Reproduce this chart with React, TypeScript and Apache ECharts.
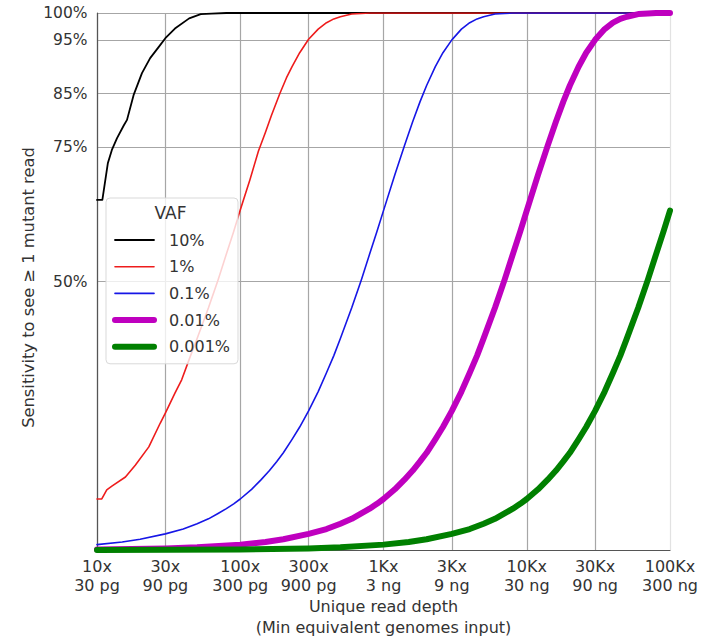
import React, { useEffect, useRef } from "react";
import * as echarts from "echarts";

// Axis ticks: read depth (log scale) and the matching genome-equivalent input mass
const depthTicks = [10, 30, 100, 300, 1000, 3000, 10000, 30000, 100000];
const depthTickLabels = ["10x", "30x", "100x", "300x", "1Kx", "3Kx", "10Kx", "30Kx", "100Kx"];
const massTickLabels = ["30 pg", "90 pg", "300 pg", "900 pg", "3 ng", "9 ng", "30 ng", "90 ng", "300 ng"];
const pctTicks = [50, 75, 85, 95, 100];

// VAF 10%
const vaf10Depth = [10, 10.9, 11.9, 12.7, 13.8, 15.4, 16.2, 18, 20.6, 23.5, 27, 30, 35, 44, 53, 63, 80, 100000];
const vaf10Pct = [65.2, 65.2, 72.0, 74.5, 76.7, 79.1, 80.1, 84.7, 88.8, 91.6, 93.7, 95.3, 97.1, 99.0, 99.8, 99.9, 100, 100];

// VAF 1%
const vaf1Depth = [10, 10.8, 11.7, 12.7, 15.8, 18.5, 23, 27.6, 30, 35, 39, 45, 50, 60, 70, 80, 90, 100, 117, 134, 150, 165, 189, 210, 230, 260, 300, 350, 400, 450, 500, 600, 700, 800, 100000];
const vaf1Pct = [9.5, 9.5, 11.2, 11.9, 13.6, 15.8, 19.2, 23.6, 25.5, 29.2, 31.7, 36.2, 39.4, 45.1, 50.3, 55.1, 59.3, 63.3, 69.0, 74.3, 77.8, 80.9, 85.0, 87.9, 90.0, 92.6, 95.1, 97.0, 98.2, 98.9, 99.3, 99.8, 99.9, 100, 100];

// VAF 0.1%
const vaf01Depth = [10, 15, 20, 30, 40, 50, 60, 70, 80, 90, 100, 120, 140, 160, 180, 200, 230, 260, 300, 350, 400, 450, 500, 600, 700, 800, 900, 1000, 1200, 1400, 1600, 1800, 2000, 2300, 2600, 3000, 3500, 4000, 4500, 5000, 6000, 7000, 8000, 10000, 100000];
const vaf01Pct = [1.0, 1.5, 2.0, 3.0, 3.9, 4.9, 5.8, 6.8, 7.7, 8.6, 9.5, 11.3, 13.1, 14.8, 16.5, 18.1, 20.6, 22.9, 25.9, 29.5, 33.0, 36.2, 39.4, 45.1, 50.3, 55.1, 59.3, 63.2, 69.9, 75.3, 79.8, 83.5, 86.5, 90.0, 92.6, 95.0, 97.0, 98.2, 98.9, 99.3, 99.8, 99.9, 100, 100, 100];

// VAF 0.01%
const vaf001Depth = [10, 30, 50, 100, 150, 200, 300, 400, 500, 600, 700, 800, 900, 1000, 1200, 1400, 1600, 1800, 2000, 2300, 2600, 3000, 3500, 4000, 4500, 5000, 6000, 7000, 8000, 9000, 10000, 12000, 14000, 16000, 18000, 20000, 23000, 26000, 30000, 35000, 40000, 45000, 50000, 60000, 70000, 80000, 100000];
const vaf001Pct = [0.1, 0.3, 0.5, 1.0, 1.5, 2.0, 3.0, 3.9, 4.9, 5.8, 6.8, 7.7, 8.6, 9.5, 11.3, 13.1, 14.8, 16.5, 18.1, 20.6, 22.9, 25.9, 29.5, 33.0, 36.2, 39.4, 45.1, 50.3, 55.1, 59.3, 63.2, 69.9, 75.3, 79.8, 83.5, 86.5, 90.0, 92.6, 95.0, 97.0, 98.2, 98.9, 99.3, 99.8, 99.9, 100, 100];

// VAF 0.001%
const vaf0001Depth = [10, 100, 300, 500, 1000, 1500, 2000, 3000, 4000, 5000, 6000, 7000, 8000, 9000, 10000, 12000, 14000, 16000, 18000, 20000, 23000, 26000, 30000, 35000, 40000, 45000, 50000, 60000, 70000, 80000, 90000, 100000];
const vaf0001Pct = [0.01, 0.1, 0.3, 0.5, 1.0, 1.5, 2.0, 3.0, 3.9, 4.9, 5.8, 6.8, 7.7, 8.6, 9.5, 11.3, 13.1, 14.8, 16.5, 18.1, 20.6, 22.9, 25.9, 29.5, 33.0, 36.2, 39.4, 45.1, 50.3, 55.1, 59.3, 63.2];

const seriesNames = ["10%", "1%", "0.1%", "0.01%", "0.001%"];
const seriesColors = ["#000000", "#ee1c1c", "#1616e6", "#bf00bf", "#008000"];
const seriesWidths = [1.8, 1.6, 1.6, 6, 6];
const seriesDepths = [vaf10Depth, vaf1Depth, vaf01Depth, vaf001Depth, vaf0001Depth];
const seriesPcts = [vaf10Pct, vaf1Pct, vaf01Pct, vaf001Pct, vaf0001Pct];

const FONT = "DejaVu Sans";
const TEXT = "#333333";

function tickIndex(v: number): number {
  return depthTicks.findIndex((t) => Math.abs(Math.log10(t) - Math.log10(v)) < 0.01);
}

export default function App() {
  const ref = useRef<HTMLDivElement>(null);

  useEffect(() => {
    document.body.style.margin = "0";
    if (!ref.current) return;
    const chart = echarts.init(ref.current, null, { renderer: "svg" });

    const series = seriesNames.map((name, i) => ({
      type: "line",
      name,
      data: seriesDepths[i].map((d, j) => [d, seriesPcts[i][j]]),
      symbol: "none",
      silent: true,
      lineStyle: {
        color: seriesColors[i],
        width: seriesWidths[i],
        cap: "round",
        join: "round",
      },
      itemStyle: { color: seriesColors[i] },
      emphasis: { disabled: true },
    }));

    const gridColor = "#a6a6a6";
    const xSplitColors = depthTicks.map((_, i) => (i === depthTicks.length - 1 ? "#e2e2e2" : gridColor));

    chart.setOption({
      animation: false,
      backgroundColor: "#ffffff",
      textStyle: { fontFamily: FONT },
      grid: { left: 97, right: 36, top: 13, bottom: 91, containLabel: false, outerBoundsMode: "none" },
      xAxis: {
        type: "log",
        logBase: 10,
        min: 10,
        max: 100000,
        axisLine: { show: true, lineStyle: { color: "#555555", width: 1.2 } },
        axisTick: { show: false, customValues: depthTicks },
        minorTick: { show: false },
        axisLabel: {
          customValues: depthTicks,
          formatter: (v: number) => {
            const i = tickIndex(v);
            return i < 0 ? "" : depthTickLabels[i] + "\n" + massTickLabels[i];
          },
          color: TEXT,
          fontSize: 16,
          lineHeight: 19.5,
          margin: 6.5,
          fontFamily: FONT,
        },
        splitLine: { show: true, lineStyle: { color: xSplitColors, width: 1.2 } },
        name: "Unique read depth\n(Min equivalent genomes input)",
        nameLocation: "middle",
        nameGap: 45.5,
        nameMoveOverlap: false,
        nameTextStyle: { fontSize: 16, lineHeight: 21.5, color: TEXT, fontFamily: FONT },
      },
      yAxis: {
        type: "value",
        min: 0,
        max: 100,
        axisLine: { show: true, lineStyle: { color: "#555555", width: 1.2 } },
        axisTick: { show: false, customValues: pctTicks },
        axisLabel: {
          customValues: pctTicks,
          formatter: "{value}%",
          color: TEXT,
          fontSize: 15.5,
          margin: 9.5,
          fontFamily: FONT,
        },
        splitLine: { show: true, lineStyle: { color: gridColor, width: 1.2 } },
        name: "Sensitivity to see \u2265 1 mutant read",
        nameLocation: "middle",
        nameGap: 61,
        nameMoveOverlap: false,
        nameTextStyle: { fontSize: 16.3, color: TEXT, fontFamily: FONT, padding: [0, 12, 0, 0] },
      },
      legend: {
        orient: "vertical",
        left: 106,
        top: 198,
        padding: [33, 8, 8, 6],
        itemWidth: 39,
        itemHeight: 14,
        itemGap: 8.7,
        backgroundColor: "rgba(255,255,255,0.8)",
        borderColor: "#d9d9d9",
        borderWidth: 1,
        borderRadius: 4,
        selectedMode: false,
        textStyle: { fontSize: 16, color: TEXT, lineHeight: 18, padding: [0, 0, 0, 10], fontFamily: FONT },
        data: seriesNames.map((name, i) => ({
          name,
          itemStyle: { opacity: 0 },
          lineStyle: { color: seriesColors[i], width: seriesWidths[i], cap: "round" },
        })),
      },
      graphic: [
        {
          type: "text",
          x: 170.5,
          y: 213,
          z: 100,
          style: {
            text: "VAF",
            align: "center",
            verticalAlign: "middle",
            fontSize: 17,
            fontFamily: FONT,
            fill: TEXT,
          },
        },
      ],
      series,
    });

    return () => chart.dispose();
  }, []);

  return <div ref={ref} style={{ position: "absolute", left: 0, top: 0, width: 706, height: 641 }} />;
}
